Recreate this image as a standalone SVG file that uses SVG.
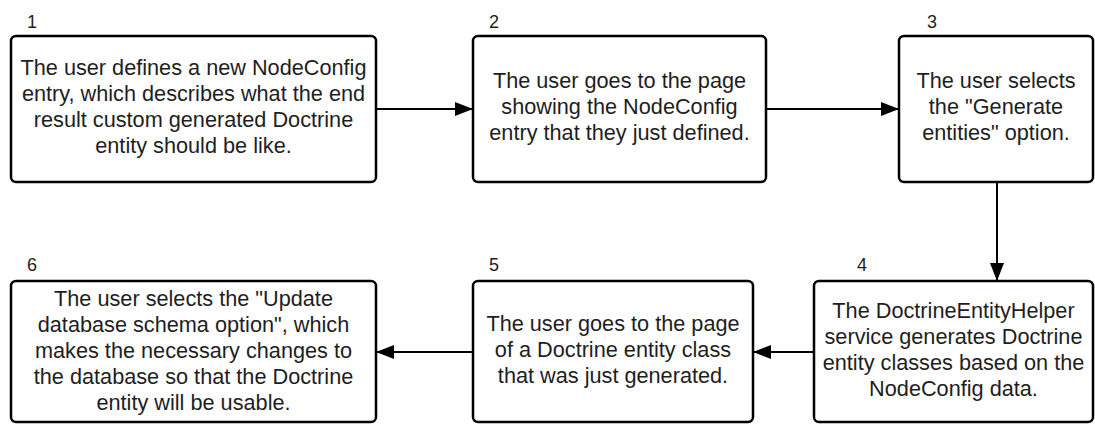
<svg xmlns="http://www.w3.org/2000/svg" width="1095" height="424" viewBox="0 0 1095 424">
<defs>
<style>
.box{fill:#fff;stroke:#000;stroke-width:2.5}
.t{font-family:"Liberation Sans",Arial,sans-serif;font-size:21.7px;fill:#1e1e1e;text-anchor:middle}
.n{font-family:"Liberation Sans",Arial,sans-serif;font-size:18px;fill:#1e1e1e}
.c{fill:none;stroke:#000;stroke-width:2}
</style>
<marker id="ah" viewBox="0 0 18 14" refX="18" refY="7" markerWidth="18" markerHeight="14" markerUnits="userSpaceOnUse" orient="auto">
<path d="M0,0 L18,7 L0,14 Z" fill="#000"/>
</marker>
</defs>
<rect width="1095" height="424" fill="#fff"/>
<g id="connectors">
<line class="c" x1="376" y1="109" x2="473" y2="109" marker-end="url(#ah)"/>
<line class="c" x1="766" y1="109" x2="899" y2="109" marker-end="url(#ah)"/>
<line class="c" x1="997" y1="182" x2="997" y2="281" marker-end="url(#ah)"/>
<line class="c" x1="814" y1="352" x2="753" y2="352" marker-end="url(#ah)"/>
<line class="c" x1="473" y1="352" x2="376" y2="352" marker-end="url(#ah)"/>
</g>
<g id="node1">
<text class="n" x="27" y="28">1</text>
<rect class="box" x="11" y="36" width="365" height="146" rx="5"/>
<text class="t" x="193.5" y="75">The user defines a new NodeConfig</text>
<text class="t" x="193.5" y="101">entry, which describes what the end</text>
<text class="t" x="193.5" y="127">result custom generated Doctrine</text>
<text class="t" x="193.5" y="153">entity should be like.</text>
</g>
<g id="node2">
<text class="n" x="489" y="28">2</text>
<rect class="box" x="473" y="36" width="293" height="146" rx="5"/>
<text class="t" x="619.5" y="88">The user goes to the page</text>
<text class="t" x="619.5" y="114">showing the NodeConfig</text>
<text class="t" x="619.5" y="140">entry that they just defined.</text>
</g>
<g id="node3">
<text class="n" x="927" y="28">3</text>
<rect class="box" x="899" y="36" width="194" height="146" rx="5"/>
<text class="t" x="996" y="88">The user selects</text>
<text class="t" x="996" y="114">the "Generate</text>
<text class="t" x="996" y="140">entities" option.</text>
</g>
<g id="node4">
<text class="n" x="857" y="271">4</text>
<rect class="box" x="814" y="281" width="279" height="141" rx="5"/>
<text class="t" x="953.5" y="318">The DoctrineEntityHelper</text>
<text class="t" x="953.5" y="344">service generates Doctrine</text>
<text class="t" x="953.5" y="370">entity classes based on the</text>
<text class="t" x="953.5" y="396">NodeConfig data.</text>
</g>
<g id="node5">
<text class="n" x="489" y="271">5</text>
<rect class="box" x="473" y="281" width="280" height="141" rx="5"/>
<text class="t" x="613" y="331">The user goes to the page</text>
<text class="t" x="613" y="357">of a Doctrine entity class</text>
<text class="t" x="613" y="383">that was just generated.</text>
</g>
<g id="node6">
<text class="n" x="27" y="271">6</text>
<rect class="box" x="11" y="281" width="365" height="141" rx="5"/>
<text class="t" x="193.5" y="306">The user selects the "Update</text>
<text class="t" x="193.5" y="332">database schema option", which</text>
<text class="t" x="193.5" y="358">makes the necessary changes to</text>
<text class="t" x="193.5" y="384">the database so that the Doctrine</text>
<text class="t" x="193.5" y="410">entity will be usable.</text>
</g>
</svg>
